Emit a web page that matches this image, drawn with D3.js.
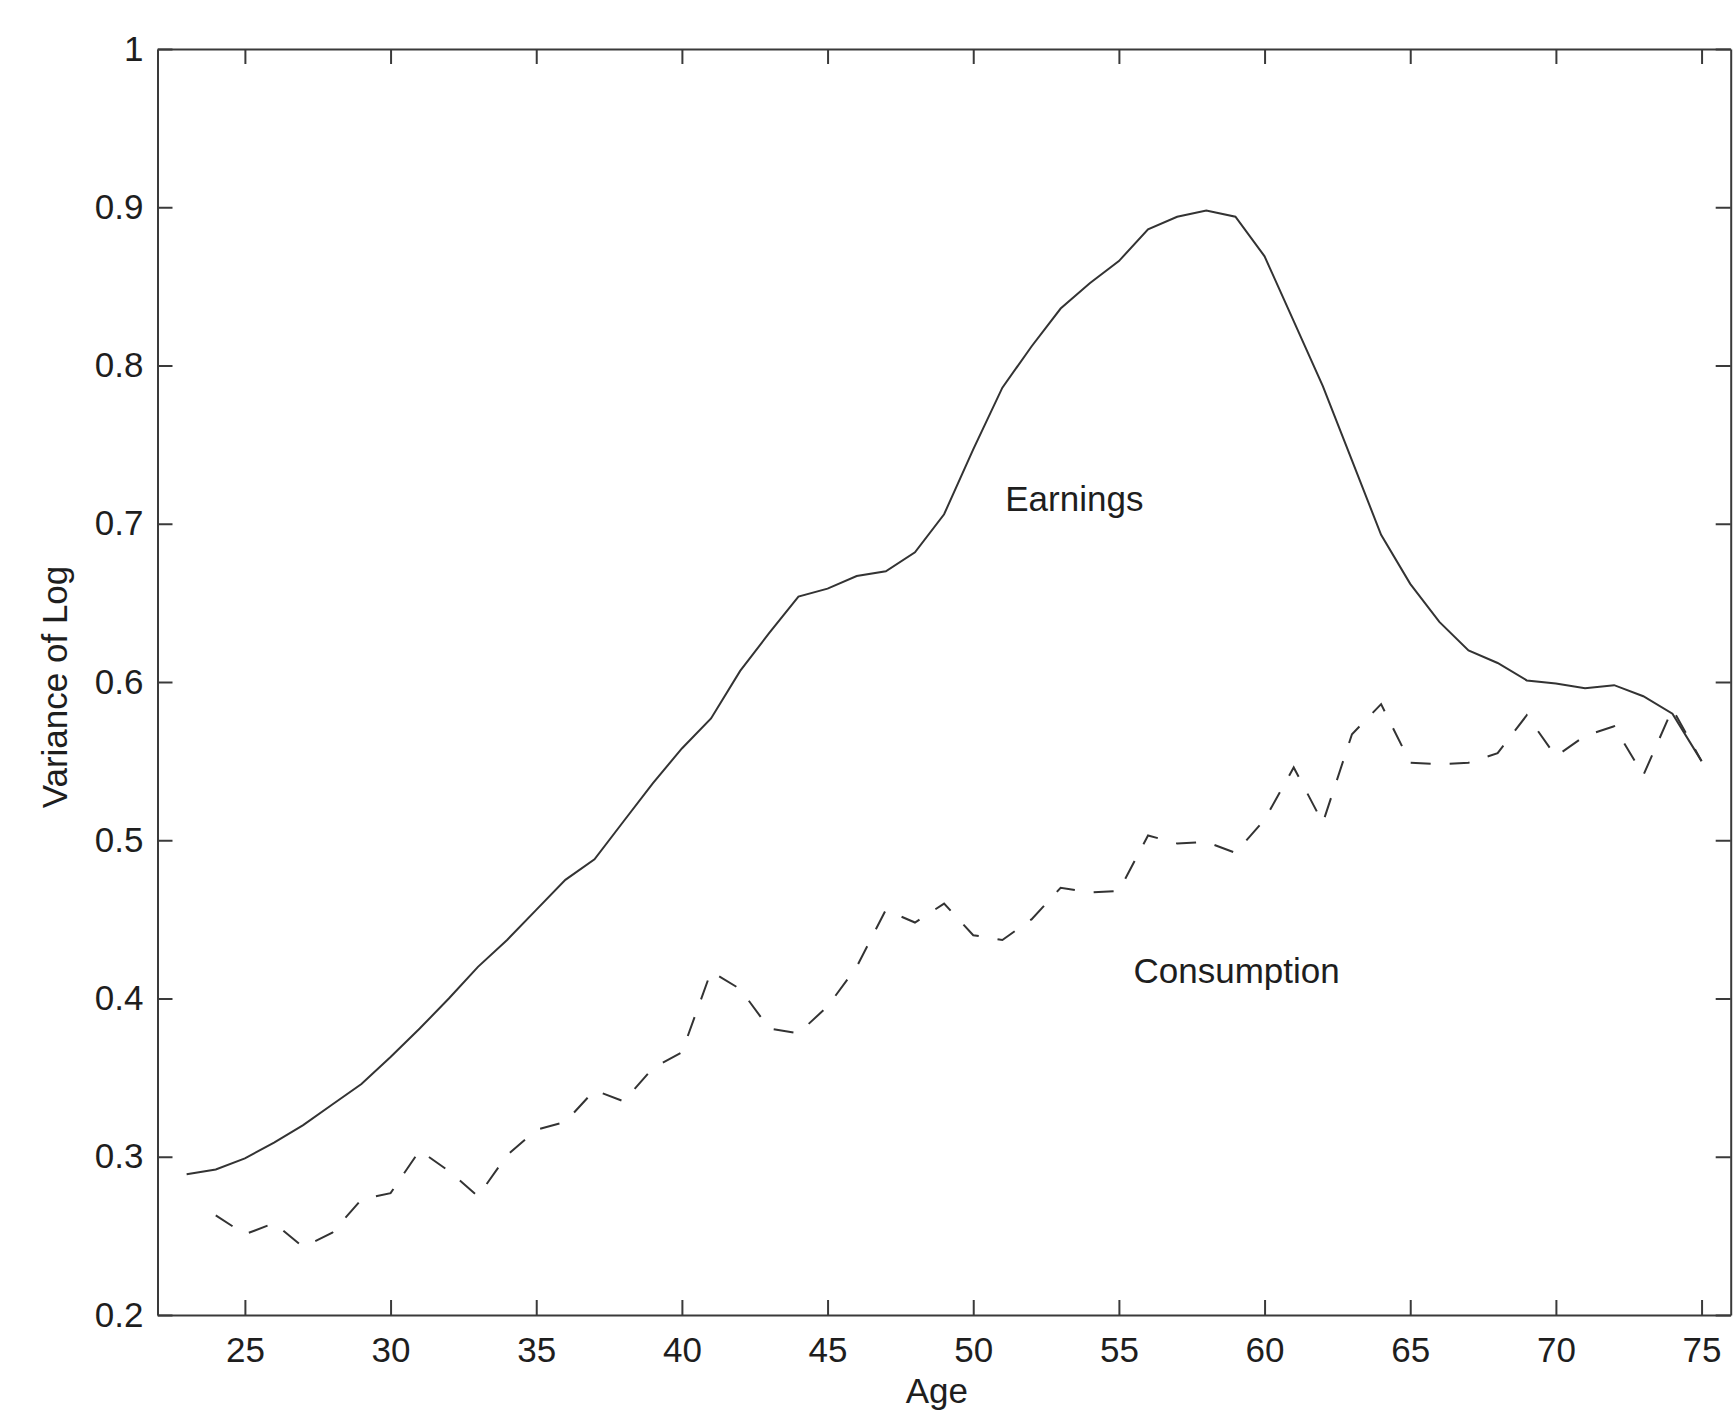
<!DOCTYPE html>
<html>
<head>
<meta charset="utf-8">
<script src="https://cdn.jsdelivr.net/npm/d3@7"></script>
<style>
  html, body { margin: 0; padding: 0; background: #fff; }
  .chart text { font-family: "Liberation Sans", Arial, Helvetica, sans-serif; fill: #1e1e1e; }
  .axis path, .axis line { stroke: #3a3a3a; stroke-width: 2; }
</style>
</head>
<body>
<div class="chart"></div>
<script>
// ages and variance of log
var earningsAges = [23, 24, 25, 26, 27, 28, 29, 30, 31, 32, 33, 34, 35, 36, 37, 38, 39, 40, 41, 42, 43, 44, 45, 46, 47, 48, 49,
                    50, 51, 52, 53, 54, 55, 56, 57, 58, 59, 60, 61, 62, 63, 64, 65, 66, 67, 68, 69, 70, 71, 72, 73, 74, 75];
var earnings = [0.289, 0.292, 0.299, 0.309, 0.320, 0.333, 0.346, 0.363, 0.381, 0.400, 0.420, 0.437, 0.456, 0.475, 0.488,
                0.512, 0.536, 0.558, 0.577, 0.607, 0.631, 0.654, 0.659, 0.667, 0.670, 0.682, 0.706, 0.747, 0.786, 0.812,
                0.836, 0.852, 0.866, 0.886, 0.894, 0.898, 0.894, 0.869, 0.828, 0.787, 0.740, 0.693, 0.662, 0.638, 0.620,
                0.612, 0.601, 0.599, 0.596, 0.598, 0.591, 0.580, 0.550];

var consumptionAges = [24, 25, 26, 27, 28, 29, 30, 31, 32, 33, 34, 35, 36, 37, 38, 39, 40, 41, 42, 43, 44, 45, 46, 47, 48, 49,
                       50, 51, 52, 53, 54, 55, 56, 57, 58, 59, 60, 61, 62, 63, 64, 65, 66, 67, 68, 69, 70, 71, 72, 73, 74, 75];
var consumption = [0.263, 0.251, 0.258, 0.243, 0.252, 0.273, 0.277, 0.304, 0.291, 0.275, 0.301, 0.317, 0.322, 0.342,
                   0.335, 0.356, 0.366, 0.417, 0.406, 0.381, 0.378, 0.395, 0.420, 0.456, 0.448, 0.460, 0.440, 0.437,
                   0.450, 0.470, 0.467, 0.468, 0.503, 0.498, 0.499, 0.492, 0.513, 0.546, 0.511, 0.567, 0.586, 0.549,
                   0.548, 0.549, 0.555, 0.579, 0.553, 0.566, 0.572, 0.541, 0.583, 0.550];

var xTicks = [25, 30, 35, 40, 45, 50, 55, 60, 65, 70, 75];
var yTicks = [0.2, 0.3, 0.4, 0.5, 0.6, 0.7, 0.8, 0.9, 1];

// curve labels, placed in data units
var labelNames = ["Earnings", "Consumption"];
var labelAges = [51.1, 55.5];
var labelValues = [0.708, 0.41];

var W = 1733, H = 1412;
var margin = {top: 49, left: 157.5, right: 2.3, bottom: 97};
var w = W - margin.left - margin.right;
var h = H - margin.top - margin.bottom;

var x_scale = d3.scaleLinear().domain([22, 76]).range([0, w]);
var y_scale = d3.scaleLinear().domain([0.2, 1]).range([h, 0]);

var svg = d3.select(".chart").append("svg")
    .attr("width", W)
    .attr("height", H);

var graph = svg.append("g")
    .attr("transform", "translate(" + margin.left + "," + margin.top + ")");

var fmtY = function(d) { return d === 1 ? "1" : d3.format(".1f")(d); };

graph.append("g").attr("class", "axis")
    .attr("transform", "translate(0," + h + ")")
    .call(d3.axisBottom(x_scale).tickValues(xTicks).tickSizeInner(-15).tickSizeOuter(0).tickPadding(22))
    .call(function(g) { g.selectAll("text").attr("font-size", 35); });

graph.append("g").attr("class", "axis")
    .call(d3.axisLeft(y_scale).tickValues(yTicks).tickFormat(fmtY).tickSizeInner(-15).tickSizeOuter(0).tickPadding(14))
    .call(function(g) { g.selectAll("text").attr("font-size", 35); });

graph.append("g").attr("class", "axis")
    .call(d3.axisTop(x_scale).tickValues(xTicks).tickFormat("").tickSizeInner(-15).tickSizeOuter(0));

graph.append("g").attr("class", "axis")
    .attr("transform", "translate(" + w + ",0)")
    .call(d3.axisRight(y_scale).tickValues(yTicks).tickFormat("").tickSizeInner(-15).tickSizeOuter(0));

graph.selectAll(".axis text").attr("fill", "#1e1e1e").attr("font-family", "Liberation Sans, Arial, sans-serif");

var line = d3.line()
    .x(function(d) { return x_scale(d.x); })
    .y(function(d) { return y_scale(d.y); });

var earnXY = earningsAges.map(function(a, i) { return {x: a, y: earnings[i]}; });
var consXY = consumptionAges.map(function(a, i) { return {x: a, y: consumption[i]}; });

graph.append("path")
    .attr("d", line(earnXY))
    .attr("fill", "none")
    .attr("stroke", "#333")
    .attr("stroke-width", 2);

graph.append("path")
    .attr("d", line(consXY))
    .attr("fill", "none")
    .attr("stroke", "#333")
    .attr("stroke-width", 2)
    .attr("stroke-dasharray", "20,19");

graph.selectAll(".curve-label")
    .data(labelNames)
    .enter().append("text")
    .attr("class", "curve-label")
    .attr("x", function(d, i) { return x_scale(labelAges[i]); })
    .attr("y", function(d, i) { return y_scale(labelValues[i]); })
    .attr("font-size", 35)
    .text(function(d) { return d; });

// axis titles
graph.append("text")
    .attr("x", x_scale(48.75))
    .attr("y", h + 88)
    .attr("text-anchor", "middle")
    .attr("font-size", 35)
    .text("Age");

graph.append("text")
    .attr("transform", "translate(" + (67 - margin.left) + "," + (h / 2 + 5) + ") rotate(-90)")
    .attr("text-anchor", "middle")
    .attr("font-size", 35)
    .text("Variance of Log");
</script>
</body>
</html>
